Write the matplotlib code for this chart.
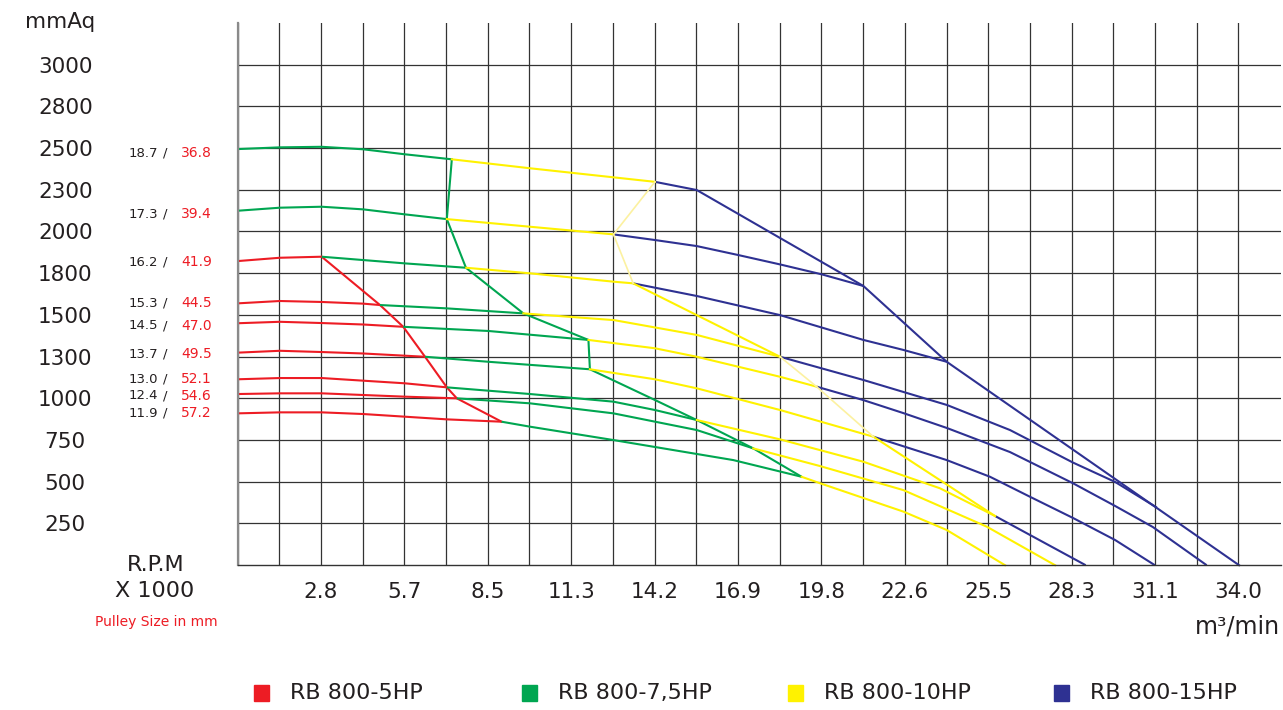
import numpy as np
import matplotlib
matplotlib.use("Agg")
import matplotlib.pyplot as plt
from matplotlib.patches import Rectangle

# pressure axis (mmAq): labelled lines are equally spaced on the chart
pressure_ticks = [250, 500, 750, 1000, 1300, 1500, 1800, 2000, 2300, 2500, 2800, 3000]
pressure_top = 3200

# flow axis (m3/min)
flow_labels = ["2.8", "5.7", "8.5", "11.3", "14.2", "16.9", "19.8",
               "22.6", "25.5", "28.3", "31.1", "34.0"]
flow_max = 34.0
n_cells = 24

# fan speed (rpm x 1000) / pulley size (mm), top to bottom
rpm_labels = ["18.7", "17.3", "16.2", "15.3", "14.5", "13.7", "13.0", "12.4", "11.9"]
pulley_labels = ["36.8", "39.4", "41.9", "44.5", "47.0", "49.5", "52.1", "54.6", "57.2"]
label_pressure = [2476, 2125, 1853, 1585, 1447, 1312, 1139, 1017, 912]

# curve segments per motor: (flow, pressure)
hp5_curves = [
    ([0, 1.44, 2.86], [1858, 1874, 1879]),
    ([0, 1.44, 2.86, 4.27, 4.84], [1583, 1600, 1593, 1581, 1571]),
    ([0, 1.44, 2.86, 4.27, 5.63], [1460, 1467, 1461, 1454, 1443]),
    ([0, 1.44, 2.86, 4.27, 6.37], [1319, 1328, 1322, 1315, 1299]),
    ([0, 1.44, 2.86, 4.27, 5.69, 7.11], [1137, 1146, 1146, 1127, 1108, 1079]),
    ([0, 1.44, 2.86, 4.27, 5.69, 7.45], [1031, 1036, 1036, 1024, 1012, 1000]),
    ([0, 1.44, 2.86, 4.27, 5.69, 7.11, 8.97], [910, 916, 916, 906, 890, 874, 860]),
]
hp5_limit = ([2.86, 4.84, 5.63, 6.37, 7.11, 7.45, 8.97],
             [1879, 1571, 1443, 1299, 1079, 1000, 860])

hp75_curves = [
    ([0, 1.44, 2.86, 4.27, 5.69, 7.28], [2495, 2505, 2509, 2494, 2470, 2446]),
    ([0, 1.44, 2.86, 4.27, 5.69, 7.11], [2149, 2171, 2178, 2159, 2123, 2089]),
    ([2.86, 4.27, 5.69, 7.77], [1879, 1863, 1847, 1826]),
    ([4.84, 7.11, 9.71], [1571, 1547, 1511]),
    ([5.63, 8.52, 11.92], [1443, 1423, 1380]),
    ([6.37, 8.52, 11.97], [1299, 1263, 1209]),
    ([7.11, 9.94, 12.77, 14.18, 15.60], [1079, 1031, 980, 930, 870]),
    ([7.45, 9.94, 12.77, 15.60, 17.52], [1000, 970, 910, 810, 700]),
    ([8.97, 9.94, 12.77, 16.84, 19.16], [860, 830, 750, 630, 530]),
]
hp75_limit = ([7.28, 7.11, 7.76, 9.71, 11.92, 11.97, 14.18, 15.60, 17.52, 19.16],
              [2446, 2089, 1826, 1511, 1380, 1209, 990, 870, 700, 530])

hp10_curves = [
    ([7.28, 9.94, 14.18], [2446, 2403, 2338]),
    ([7.11, 9.94, 12.77], [2089, 2034, 1986]),
    ([7.77, 9.94, 12.77, 13.44], [1826, 1799, 1739, 1727]),
    ([9.71, 12.79, 15.60, 18.43], [1511, 1475, 1404, 1299]),
    ([11.92, 14.18, 15.60, 18.43, 19.67], [1380, 1340, 1299, 1155, 1084]),
    ([11.97, 14.18, 15.60, 18.43, 21.60], [1209, 1137, 1072, 930, 770]),
    ([15.60, 18.43, 21.26, 23.86, 25.73], [870, 754, 620, 461, 295]),
    ([17.52, 19.79, 22.62, 25.45, 27.77], [700, 594, 450, 231, 0]),
    ([19.16, 19.79, 22.62, 24.09, 26.07], [530, 491, 321, 211, 0]),
]
hp10_limit_faint = [
    ([14.18, 12.77, 13.44], [2338, 1986, 1727]),
    ([18.43, 19.67, 21.60], [1299, 1084, 770]),
]
hp10_limit_solid = [
    ([13.44, 18.43], [1727, 1299]),
    ([21.60, 25.73], [770, 295]),
]

hp15_curves = [
    ([14.18, 15.60], [2338, 2298]),
    ([12.77, 14.18, 15.60, 17.01, 18.43, 19.84, 21.26], [1986, 1959, 1930, 1887, 1842, 1792, 1708]),
    ([13.44, 15.60, 18.43, 21.26, 22.62, 24.09], [1727, 1636, 1499, 1380, 1332, 1263]),
    ([18.43, 21.26, 24.10, 26.24, 28.38, 29.81, 31.23], [1299, 1132, 960, 810, 615, 499, 345]),
    ([19.67, 21.25, 22.61, 24.10, 26.24, 28.38, 29.81, 31.09, 32.92],
     [1084, 990, 912, 822, 678, 491, 355, 229, 0]),
    ([21.60, 24.09, 25.56, 26.92, 28.38, 29.81, 31.16], [770, 630, 530, 410, 283, 151, 0]),
    ([25.73, 26.92, 28.81], [295, 181, 0]),
]
hp15_limit = ([15.60, 21.26, 24.09, 34.02], [2298, 1708, 1263, 0])

legend_labels = ["RB 800-5HP", "RB 800-7,5HP", "RB 800-10HP", "RB 800-15HP"]
motor_colors = ["#ed1c24", "#00a651", "#fff200", "#2e3192"]
faint_yellow = "#fcf1a0"
text_color = "#231f20"

W, H = 1283, 710


def fx(px):
    return px / W


def fy(py):
    return 1 - py / H


grid_pressure = [0] + pressure_ticks + [pressure_top]
grid_pos = np.arange(len(grid_pressure), dtype=float)


def forward(p):
    return np.interp(p, grid_pressure, grid_pos)


def inverse(q):
    return np.interp(q, grid_pos, grid_pressure)


plt.rcParams["font.family"] = ["DejaVu Sans"]

fig = plt.figure(figsize=(W / 100, H / 100), dpi=100)
ax = fig.add_axes([fx(237.5), fy(565.2), fx(1281) - fx(237.5), fy(22.9) - fy(565.2)])

ax.set_yscale("function", functions=(forward, inverse))
ax.set_xlim(0, (1281 - 237.5) / 29.44)
ax.set_ylim(0, pressure_top)

flow_grid = np.linspace(0, flow_max, n_cells + 1)
ax.set_xticks(flow_grid[2::2])
ax.set_xticklabels(flow_labels)
ax.set_xticks(flow_grid, minor=True)
ax.set_yticks(pressure_ticks)
ax.set_yticklabels([str(v) for v in pressure_ticks])
ax.yaxis.set_minor_locator(matplotlib.ticker.NullLocator())

ax.grid(which="both", axis="x", color="#333333", linewidth=0.9)
ax.grid(which="major", axis="y", color="#333333", linewidth=0.9)
ax.set_axisbelow(True)

ax.tick_params(axis="both", which="both", length=0)
ax.tick_params(axis="y", pad=124, labelsize=15.5, labelcolor=text_color)
ax.tick_params(axis="x", pad=12, labelsize=15.5, labelcolor=text_color)
for lbl in ax.get_yticklabels():
    lbl.set_horizontalalignment("center")

for side in ["top", "right"]:
    ax.spines[side].set_visible(False)
ax.spines["left"].set_color("#8a8a8a")
ax.spines["left"].set_linewidth(1.6)
ax.spines["bottom"].set_color("#333333")
ax.spines["bottom"].set_linewidth(1.0)

lw = 1.5
for curves, limit, color in [(hp5_curves, hp5_limit, motor_colors[0]),
                             (hp75_curves, hp75_limit, motor_colors[1]),
                             (hp15_curves, hp15_limit, motor_colors[3])]:
    for x, y in curves:
        ax.plot(x, y, color=color, linewidth=lw, solid_capstyle="butt", clip_on=False)
    ax.plot(limit[0], limit[1], color=color, linewidth=lw, clip_on=False)

for x, y in hp10_curves:
    ax.plot(x, y, color=motor_colors[2], linewidth=lw, clip_on=False)
for x, y in hp10_limit_solid:
    ax.plot(x, y, color=motor_colors[2], linewidth=lw, clip_on=False)
for x, y in hp10_limit_faint:
    ax.plot(x, y, color=faint_yellow, linewidth=1.2, clip_on=False)

# speed / pulley labels on the left
for rpm, pulley, p in zip(rpm_labels, pulley_labels, label_pressure):
    ax.text(-2.70, p, rpm, ha="right", va="center", fontsize=9.5,
            color=text_color, clip_on=False)
    ax.text(-2.46, p, "/", ha="center", va="center", fontsize=9.5,
            color=text_color, clip_on=False)
    ax.text(-1.92, p, pulley, ha="left", va="center", fontsize=10,
            color=motor_colors[0], clip_on=False)

fig.text(fx(60), fy(22), "mmAq", ha="center", va="center", fontsize=15.5, color=text_color)
fig.text(fx(156), fy(565), "R.P.M", ha="center", va="center", fontsize=16, color=text_color)
fig.text(fx(155), fy(591), "X 1000", ha="center", va="center", fontsize=16, color=text_color)
fig.text(fx(156), fy(622), "Pulley Size in mm", ha="center", va="center", fontsize=10,
         color=motor_colors[0])
fig.text(fx(1280), fy(627), "m³/min", ha="right", va="center", fontsize=17, color=text_color)

# legend
square_x = [254, 522, 788, 1054]
for sx, color, label in zip(square_x, motor_colors, legend_labels):
    fig.patches.append(Rectangle((fx(sx), fy(701)), fx(15), 16 / H, color=color,
                                 transform=fig.transFigure, figure=fig))
    fig.text(fx(sx + 36), fy(693), label, ha="left", va="center", fontsize=16,
             color=text_color)

fig.savefig("out.png", dpi=100)
